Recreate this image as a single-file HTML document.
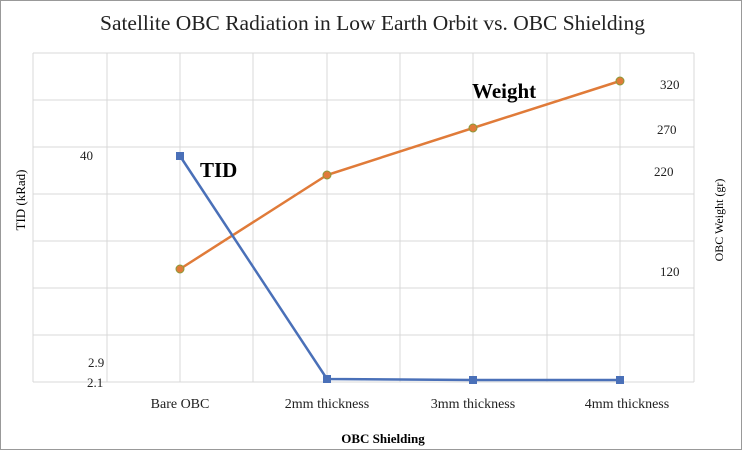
<!DOCTYPE html>
<html><head><style>body{margin:0;background:#fff}</style></head><body>
<svg width="744" height="451" xmlns="http://www.w3.org/2000/svg" font-family="Liberation Serif, serif">
<rect x="0.5" y="0.5" width="741" height="449" fill="#fff" stroke="#999"/>
<g stroke="#d9d9d9" stroke-width="1">
<line x1="33" y1="53" x2="694" y2="53"/><line x1="33" y1="100" x2="694" y2="100"/><line x1="33" y1="147" x2="694" y2="147"/><line x1="33" y1="194" x2="694" y2="194"/><line x1="33" y1="241" x2="694" y2="241"/><line x1="33" y1="288" x2="694" y2="288"/><line x1="33" y1="335" x2="694" y2="335"/><line x1="33" y1="382" x2="694" y2="382"/>
<line x1="33" y1="53" x2="33" y2="382"/><line x1="107" y1="53" x2="107" y2="382"/><line x1="180" y1="53" x2="180" y2="382"/><line x1="253" y1="53" x2="253" y2="382"/><line x1="327" y1="53" x2="327" y2="382"/><line x1="400" y1="53" x2="400" y2="382"/><line x1="473" y1="53" x2="473" y2="382"/><line x1="547" y1="53" x2="547" y2="382"/><line x1="620" y1="53" x2="620" y2="382"/><line x1="694" y1="53" x2="694" y2="382"/>
</g>
<text x="100" y="30" textLength="545" lengthAdjust="spacingAndGlyphs" font-size="21" fill="#222">Satellite OBC Radiation in Low Earth Orbit vs. OBC Shielding</text>
<polyline points="180,269 327,175 473,128 620,81" fill="none" stroke="#e07b39" stroke-width="2.5"/>
<g fill="#e07b39" stroke="#8a9a3a" stroke-width="1"><circle cx="180" cy="269" r="4"/><circle cx="327" cy="175" r="4"/><circle cx="473" cy="128" r="4"/><circle cx="620" cy="81" r="4"/></g>
<polyline points="180,156 327,379 473,380 620,380" fill="none" stroke="#4a70b8" stroke-width="2.5"/>
<g fill="#4a70b8"><rect x="176" y="152" width="8" height="8"/><rect x="323" y="375" width="8" height="8"/><rect x="469" y="376" width="8" height="8"/><rect x="616" y="376" width="8" height="8"/></g>
<text x="200" y="177" font-size="21" font-weight="bold">TID</text>
<text x="472" y="98" font-size="21" font-weight="bold">Weight</text>
<g font-size="13" fill="#222">
<text x="80" y="160">40</text><text x="88" y="367">2.9</text><text x="87" y="387">2.1</text>
<text x="660" y="89">320</text><text x="657" y="134">270</text><text x="654" y="176">220</text><text x="660" y="276">120</text>
<text x="180" y="408" text-anchor="middle" font-size="14">Bare OBC</text><text x="327" y="408" text-anchor="middle" font-size="14">2mm thickness</text><text x="473" y="408" text-anchor="middle" font-size="14">3mm thickness</text><text x="627" y="408" text-anchor="middle" font-size="14">4mm thickness</text>
</g>
<text x="383" y="443" text-anchor="middle" font-size="13" font-weight="bold">OBC Shielding</text>
<text transform="translate(25,200) rotate(-90)" text-anchor="middle" font-size="13">TID (kRad)</text>
<text transform="translate(723,220) rotate(-90)" text-anchor="middle" font-size="12">OBC Weight (gr)</text>
</svg>
</body></html>
